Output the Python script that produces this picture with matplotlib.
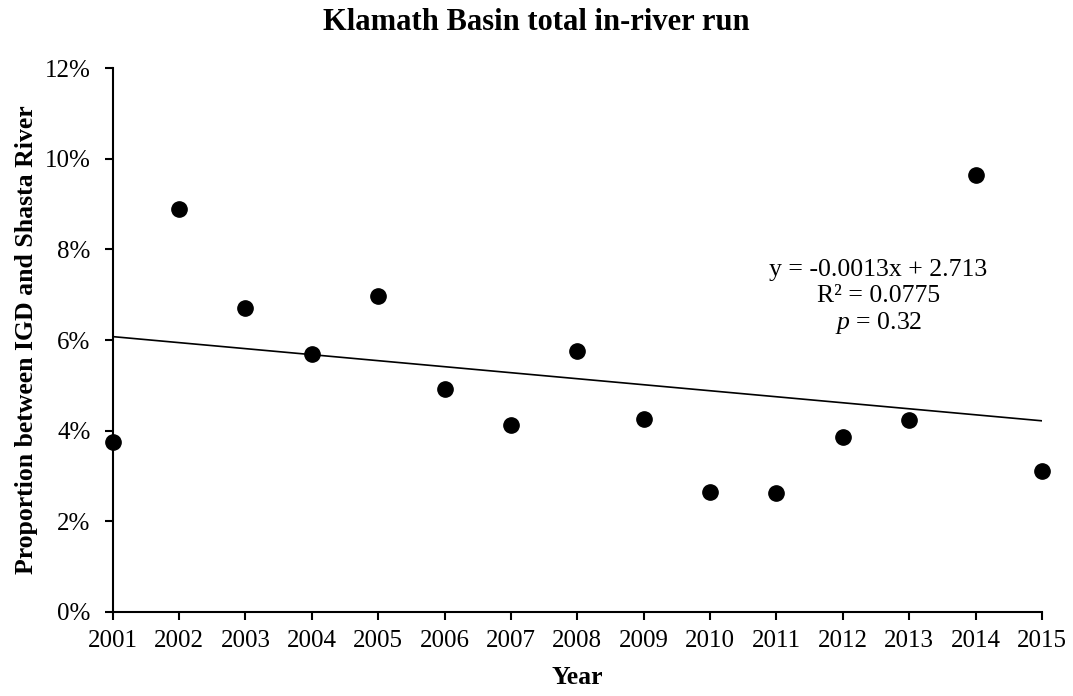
import matplotlib.pyplot as plt
import numpy as np
from matplotlib.ticker import PercentFormatter

plt.rcParams['font.family'] = ['Liberation Serif', 'DejaVu Serif']
plt.rcParams['mathtext.fontset'] = 'custom'
plt.rcParams['mathtext.rm'] = 'Liberation Serif'
plt.rcParams['mathtext.it'] = 'Liberation Serif:italic'

# data
years = [2001, 2002, 2003, 2004, 2005, 2006, 2007, 2008,
         2009, 2010, 2011, 2012, 2013, 2014, 2015]
proportion = [0.0375, 0.0889, 0.0671, 0.0569, 0.0697, 0.0492, 0.0413, 0.0576,
              0.0426, 0.0265, 0.0263, 0.0386, 0.0424, 0.0964, 0.0310]
y_ticks = [0, 0.02, 0.04, 0.06, 0.08, 0.10, 0.12]

fig = plt.figure(figsize=(10.73, 6.96), dpi=100)
ax = fig.add_axes([0.105, 0.1207, 0.866, 0.7815])

# linear trendline
coef = np.polyfit(years, proportion, 1)
xs = np.array([years[0], years[-1]])
ax.plot(xs, np.polyval(coef, xs), color='black', lw=1.2, zorder=2)

ax.plot(years, proportion, 'o', color='black', ms=11, zorder=3, clip_on=False)

ax.set_xlim(2001, 2015)
ax.set_ylim(0, 0.12)
ax.set_xticks(years)
ax.set_yticks(y_ticks)
ax.yaxis.set_major_formatter(PercentFormatter(1.0, decimals=0))
ax.tick_params(axis='both', direction='out', length=6, width=1.5, labelsize=18)
ax.tick_params(axis='x', pad=7)
ax.tick_params(axis='y', pad=10)

for s in ['top', 'right']:
    ax.spines[s].set_visible(False)
for s in ['left', 'bottom']:
    ax.spines[s].set_linewidth(1.5)

# title is centred on the whole figure
fig.text(0.5, 0.957, 'Klamath Basin total in-river run', fontsize=22,
         fontweight='bold', ha='center', va='baseline')
ax.set_xlabel('Year', fontsize=18.5, fontweight='bold', labelpad=10)
ax.set_ylabel('Proportion between IGD and Shasta River', fontsize=18.5,
              fontweight='bold', labelpad=5)

ax.text(2012.54, 0.0693, 'y = -0.0013x + 2.713\nR² = 0.0775\n$p$ = 0.32',
        ha='center', va='center', multialignment='center',
        fontsize=18.5, linespacing=1.2)

fig.savefig('out.png', dpi=100)
